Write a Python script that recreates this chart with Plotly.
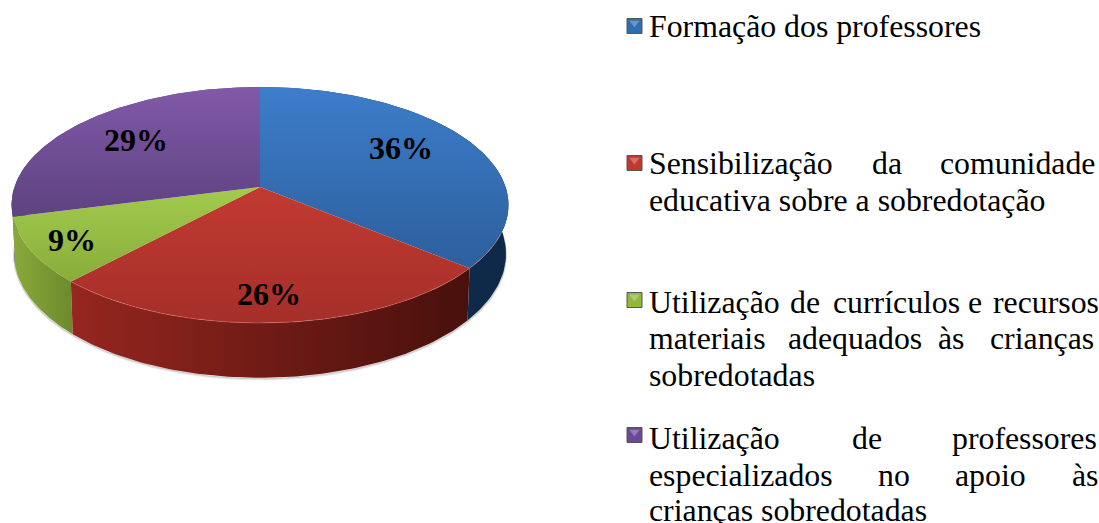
import numpy as np
import plotly.graph_objects as go

categories = ["Formação dos professores",
              "Sensibilização da comunidade educativa sobre a sobredotação",
              "Utilização de currículos e recursos materiais adequados às crianças sobredotadas",
              "Utilização de professores especializados no apoio às crianças sobredotadas"]
values = [36, 26, 9, 29]

top_colors = [("#3d7dcb", "#2c5f9c"), ("#c23a32", "#a52f29"), ("#a3cb4d", "#88ad3a"), ("#8159a9", "#5d4280")]
side_colors = [("#12304f", "#0e2848"), ("#96261f", "#48100c"), ("#8aa93b", "#6c8a2c"), ("#5d4280", "#5d4280")]
marker_colors = ["#2f6cb0", "#c0392f", "#8fb83c", "#6a4a95"]

# pie projection (perspective circle)
CX, CY, A, B, K = 260.0, 187.0, 245.6, 115.25, 0.1525
BOTTOM_X, BOTTOM_Y, BOTTOM_D = 0.99, 1.05, 48.0


def rim(t0, t1, n=90):
    th = np.linspace(t0, t1, n)
    s, c = np.sin(th), np.cos(th)
    w = 1 + K * c
    return CX + A * s / w, CY - B * c / w


def lower(x, y):
    return CX + (x - CX) * BOTTOM_X, CY + (y - CY) * BOTTOM_Y + BOTTOM_D


def grad(c0, c1, kind):
    return dict(type=kind, colorscale=[[0, c0], [1, c1]])


fig = go.Figure()
fracs = np.cumsum([0] + values) / sum(values) * 2 * np.pi
slices = list(zip(fracs[:-1], fracs[1:]))

# soft shadow under the disc
xs, ys = lower(*rim(np.pi * 0.45, np.pi * 1.55, 200))
for off, col in [(2.0, "#ececec"), (1.0, "#cfcfcf")]:
    fig.add_trace(go.Scatter(x=xs, y=ys + off, mode="lines",
                             line=dict(color=col, width=1.5), hoverinfo="skip", showlegend=False))

# side walls
for i in [3, 0, 2, 1]:
    x, y = rim(*slices[i])
    bx, by = lower(x, y)
    px = np.r_[x, bx[::-1]]
    py = np.r_[y, by[::-1]]
    fig.add_trace(go.Scatter(x=px, y=py, fill="toself", mode="lines", line=dict(width=0),
                             fillgradient=grad(side_colors[i][0], side_colors[i][1], "horizontal"),
                             hoverinfo="skip", showlegend=False))

# top faces
for i in range(4):
    x, y = rim(*slices[i])
    px = np.r_[CX, x, CX]
    py = np.r_[CY, y, CY]
    fig.add_trace(go.Scatter(x=px, y=py, fill="toself", mode="lines", line=dict(width=0),
                             fillgradient=grad(top_colors[i][1], top_colors[i][0], "vertical"),
                             name=categories[i], hoverinfo="name", showlegend=False))

# light rim on front of the top face
x, y = rim(slices[0][1] - 0.3, slices[1][1], 100)
fig.add_trace(go.Scatter(x=x, y=y, mode="lines", line=dict(color="rgba(225,120,110,0.45)", width=1),
                         hoverinfo="skip", showlegend=False))

# percentage labels
label_x = [401, 269, 72, 136]
label_y = [148, 294, 240, 140]
for v, lx, ly in zip(values, label_x, label_y):
    fig.add_annotation(x=lx, y=ly, text=f"<b>{v}%</b>", showarrow=False,
                       font=dict(family="Liberation Serif", size=32, color="#000000"))

# legend markers
marker_y = [26, 163, 300, 435]
for c, my in zip(marker_colors, marker_y):
    fig.add_trace(go.Scatter(x=[634.5], y=[my], mode="markers",
                             marker=dict(symbol="square", size=15, color=c, line=dict(color="#555555", width=1)),
                             hoverinfo="skip", showlegend=False))
    fig.add_trace(go.Scatter(x=[634.5], y=[my - 3], mode="markers",
                             marker=dict(symbol="triangle-down", size=9, color="rgba(255,255,255,0.28)"),
                             hoverinfo="skip", showlegend=False))

# legend text, laid out word by word for the justified lines
legend_lines = [
    (26, [(648, "Formação dos professores")]),
    (163, [(648, "Sensibilização"), (871, "da"), (939, "comunidade")]),
    (200, [(648, "educativa sobre a sobredotação")]),
    (302, [(648, "Utilização"), (789, "de"), (832, "currículos"), (967, "e"), (992, "recursos")]),
    (338, [(648, "materiais"), (787, "adequados"), (937, "às"), (989, "crianças")]),
    (375, [(648, "sobredotadas")]),
    (438, [(648, "Utilização"), (851, "de"), (951, "professores")]),
    (475, [(648, "especializados"), (877, "no"), (954, "apoio"), (1071, "às")]),
    (510, [(648, "crianças sobredotadas")]),
]
for ly, words in legend_lines:
    for wx, w in words:
        fig.add_annotation(x=wx, y=ly, text=w, showarrow=False, xanchor="left", yanchor="middle", borderpad=0,
                           font=dict(family="Liberation Serif", size=31.8, color="#000000"))

fig.update_layout(
    width=1099, height=523, margin=dict(l=0, r=0, t=0, b=0),
    paper_bgcolor="#ffffff", plot_bgcolor="#ffffff", showlegend=False,
    xaxis=dict(range=[0, 1099], visible=False, fixedrange=True),
    yaxis=dict(range=[523, 0], visible=False, fixedrange=True),
)
fig.write_html("out.html", config={"displayModeBar": False},
               post_script="document.body.style.margin='0';document.body.style.overflow='hidden';")
